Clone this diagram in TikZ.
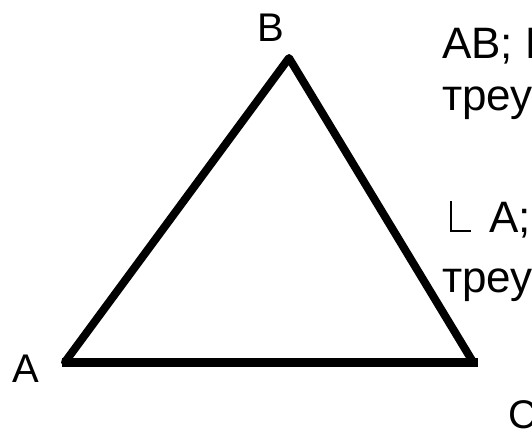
\documentclass[tikz,border=0pt]{standalone}
\usepackage{fontspec}
\setmainfont{Liberation Sans}
\newcommand{\rtang}{\hspace{2pt}\rule{1.8pt}{31pt}\rule{19pt}{1.8pt}\hspace{18pt}}
\begin{document}
\begin{tikzpicture}[x=1pt,y=-1pt,
  side/.style={line width=8pt,line cap=round,line join=round},
  vlabel/.style={inner sep=0pt,font=\fontsize{40}{48}\selectfont},
  txt/.style={inner sep=0pt,anchor=base west,font=\fontsize{44}{53}\selectfont}]
\clip (0,0) rectangle (532,431);
\fill[white] (0,0) rectangle (532,431);
\coordinate (A) at (65,362);
\coordinate (B) at (289,58);
\coordinate (C) at (473,362);
\draw[side] (A) -- (B) -- (C);
\draw[line width=9pt] ([xshift=-3pt]A) -- ([xshift=5pt]C);
\node[vlabel,anchor=base] (lA) at (26,382) {A};
\node[vlabel,anchor=base] (lB) at (271,41) {B};
\node[vlabel,anchor=base west] (lC) at (508,428) {C};
\node[txt] (t1) at (442,58) {AB; BC; AC};
\node[txt] (t2) at (442,110) {треугольника};
\node[txt] (t3) at (448,232) {\rtang A; \rtang B; \rtang C};
\node[txt] (t4) at (442,292) {треугольника};
\end{tikzpicture}
\end{document}
